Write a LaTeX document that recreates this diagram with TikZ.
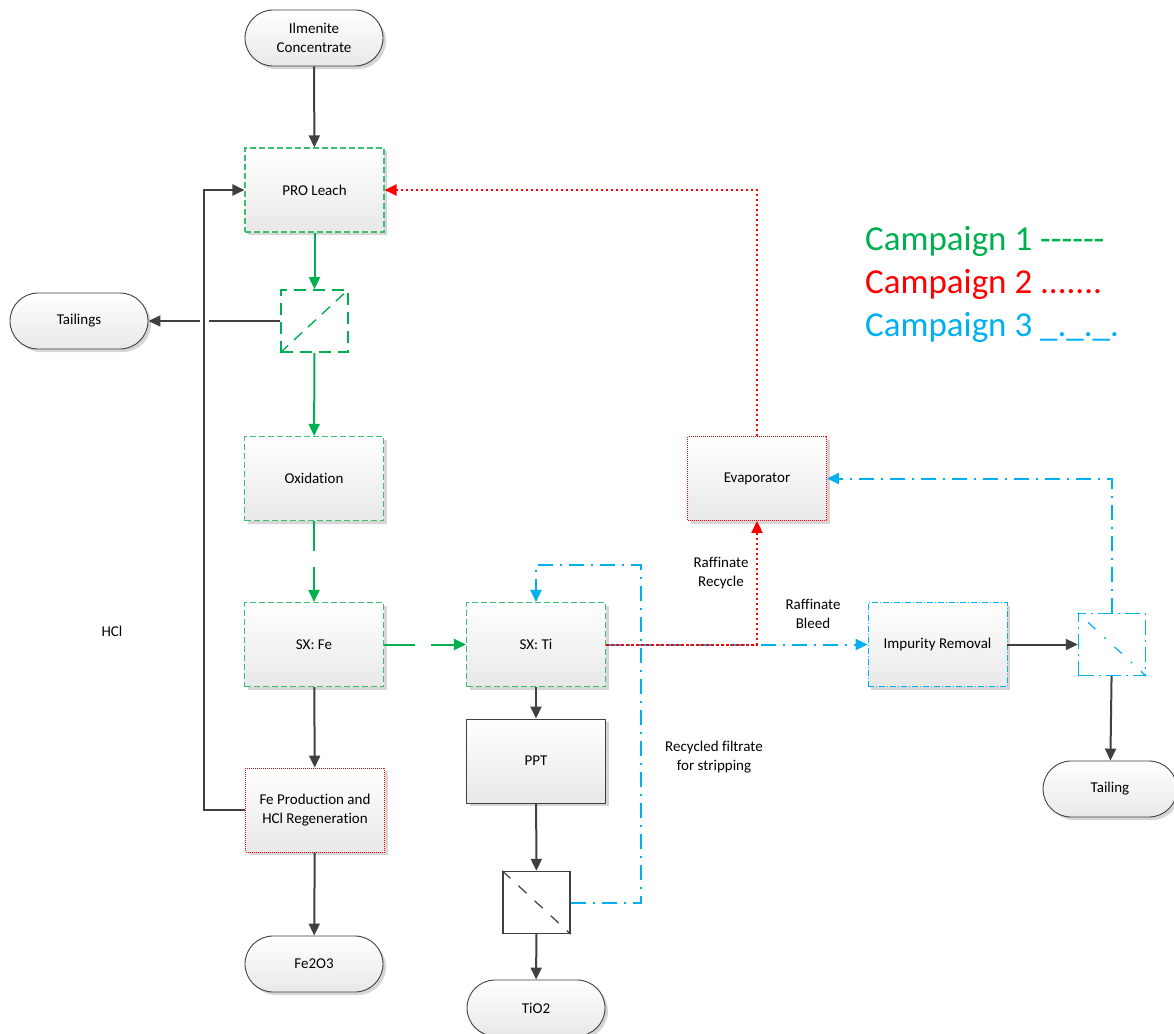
\documentclass[tikz,border=0pt]{standalone}
\usepackage{fontspec}
\setmainfont{Carlito}[Ligatures={NoCommon}]
\usetikzlibrary{arrows.meta,shadows}

\definecolor{cgreen}{RGB}{0,176,80}
\definecolor{bgreen}{RGB}{60,192,112}
\definecolor{cred}{RGB}{255,0,0}
\definecolor{ccyan}{RGB}{0,176,240}
\definecolor{ink}{RGB}{64,64,64}

\newcommand\flbl{\fontsize{15}{18.5}\selectfont}
\newcommand\flegend{\fontsize{35}{42}\selectfont}

\tikzset{
  shade box/.style={top color=white, bottom color=black!9,
    drop shadow={shadow xshift=3pt, shadow yshift=-3pt, fill=black!16, opacity=1}},
  procbox/.style={shade box, rectangle, minimum width=139pt, minimum height=84pt,
    inner sep=0pt, font=\flbl, align=center},
  gbox/.style={procbox, draw=bgreen, line width=1.1pt, dash pattern=on 6pt off 3pt},
  rbox/.style={procbox, draw=cred, line width=0.9pt, dash pattern=on 1pt off 1pt},
  cbox/.style={procbox, draw=ccyan, line width=0.9pt, dash pattern=on 6pt off 2pt on 1pt off 2pt},
  pbox/.style={procbox, draw=ink, line width=1pt},
  term/.style={shade box, rectangle, rounded corners=28pt, minimum width=138pt,
    minimum height=56pt, inner sep=0pt, draw=ink, line width=0.9pt, font=\flbl, align=center},
  filt/.style={rectangle, minimum width=67pt, minimum height=62pt, inner sep=0pt, fill=white},
  flow/.style={line width=2pt, -{Triangle[length=12pt,width=11pt]}},
  inkflow/.style={flow, draw=ink},
  greenflow/.style={flow, draw=cgreen},
  redflow/.style={flow, draw=cred, dash pattern=on 2.5pt off 2.5pt},
  cyanflow/.style={flow, draw=ccyan, dash pattern=on 15pt off 7pt on 2pt off 7pt},
  lab/.style={font=\flbl, align=center, inner sep=0pt},
  legend/.style={font=\flegend, anchor=base west, inner sep=0pt}
}

\begin{document}
\begin{tikzpicture}[x=1pt, y=-1pt]
\useasboundingbox (0,0) rectangle (1174,1033);
\clip (0,0) rectangle (1174,1033);

% process column on the left
\node[term] (ilm) at (314,38) {Ilmenite\\Concentrate};
\node[gbox] (leach) at (314.5,190) {PRO Leach};
\node[filt, draw=cgreen, line width=1.8pt, dash pattern=on 12pt off 7pt] (f1) at (314.5,321) {};
\node[term] (tails) at (79,321) {Tailings};
\node[gbox] (ox) at (314,478.5) {Oxidation};
\node[gbox] (sxfe) at (314,644.5) {SX: Fe};
\node[rbox] (feprod) at (315,810) {Fe Production and\\HCl Regeneration};
\node[term] (fe2o3) at (314,964) {Fe2O3};

% titanium branch
\node[gbox] (sxti) at (536,644.5) {SX: Ti};
\node[pbox] (ppt) at (536,761) {PPT};
\node[filt, draw=ink, line width=1.4pt] (f2) at (536.5,902.5) {};
\node[term] (tio2) at (536,1008) {TiO2};

% raffinate treatment
\node[rbox] (evap) at (757,478.5) {Evaporator};
\node[cbox] (imp) at (937.5,644.5) {Impurity Removal};
\node[filt, draw=ccyan, line width=1.4pt, dash pattern=on 15pt off 5pt on 2pt off 5pt] (f3) at (1112,644.5) {};
\node[term, minimum width=134pt] (tail) at (1110,789) {Tailing};

% filter media
\draw[cgreen, line width=1.4pt, dash pattern=on 11pt off 8pt] (f1.south west) -- (f1.north east);
\draw[ink, line width=1.2pt, dash pattern=on 11pt off 11pt] (f2.north west) -- (f2.south east);
\draw[ccyan, line width=1.2pt, dash pattern=on 2pt off 12pt on 10pt off 12pt] (f3.north west) -- (f3.south east);

% helper points for routed lines
\coordinate (hcl) at (204,500);
\coordinate (rc) at (641,565);
\coordinate (jmp) at (hcl |- tails.east);

% main flows
\draw[inkflow] (ilm) -- (leach);
\draw[greenflow] (leach) -- (f1);
\draw[greenflow] (f1) -- (ox);
\draw[greenflow, dash pattern=on 30pt off 16pt] (ox) -- (sxfe);
\draw[greenflow, dash pattern=on 31pt off 16pt] (sxfe) -- (sxti);
\draw[inkflow] (sxfe) -- (feprod);
\draw[inkflow] (feprod) -- (fe2o3);
\draw[inkflow] (f1.west |- tails.east) -- (tails.east);
\draw[white, line width=4pt] ([xshift=-4.5pt]jmp) -- ([xshift=4.5pt]jmp);
\draw[inkflow] (feprod.west) -- (feprod.west -| hcl) -- (leach.west -| hcl) -- (leach.west);

\draw[inkflow] (sxti) -- (ppt);
\draw[inkflow] (ppt) -- (f2);
\draw[inkflow] (f2) -- (tio2);
\draw[inkflow] (imp) -- (f3);
\draw[inkflow] (f3) -- (tail);

% recycle streams
\draw[cyanflow] (sxti.east) -- (imp.west);
\draw[cyanflow] (f2.east) -| (rc) -| (sxti.north);
\draw[cyanflow] (f3.north) |- (evap.east);
\draw[redflow] (sxti.east) -| (evap.south);
\draw[redflow] (evap.north) |- (leach.east);

% stream labels
\node[lab] (rr) at (721,573) {Raffinate\\Recycle};
\node[lab] (rb) at (813,614) {Raffinate\\Bleed};
\node[lab] (rf) at (714,757) {Recycled filtrate\\for stripping};
\node[lab] (hcllab) at (112,631) {HCl};

% legend
\node[legend, text=cgreen] (c1) at (865,250) {Campaign 1 -{}-{}-{}-{}-{}-};
\node[legend, text=cred] (c2) at (865,293) {Campaign 2 .......};
\node[legend, text=ccyan] (c3) at (865,336) {Campaign 3 \_.\_.\_.};
\end{tikzpicture}
\end{document}
